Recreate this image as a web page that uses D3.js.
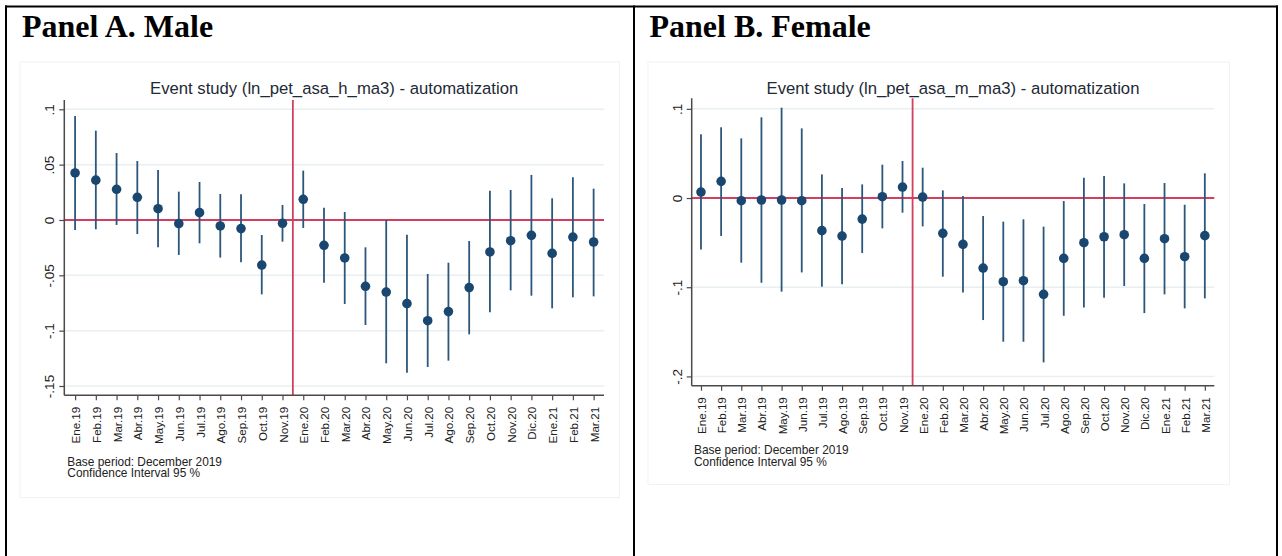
<!DOCTYPE html>
<html>
<head>
<meta charset="utf-8">
<script src="https://cdn.jsdelivr.net/npm/d3@7"></script>
<style>
  html, body { margin: 0; padding: 0; background: #ffffff; }
  svg { display: block; }
</style>
</head>
<body>
<svg id="chart" width="1282" height="556"></svg>
<script>
// ---------------- DATA ----------------
const months = ["Ene.19","Feb.19","Mar.19","Abr.19","May.19","Jun.19","Jul.19","Ago.19","Sep.19","Oct.19","Nov.19",
                "Ene.20","Feb.20","Mar.20","Abr.20","May.20","Jun.20","Jul.20","Ago.20","Sep.20","Oct.20","Nov.20","Dic.20",
                "Ene.21","Feb.21","Mar.21"];

// Panel A. Male
const maleCoef  = [0.0425, 0.036, 0.0277, 0.0205, 0.0102, -0.0033, 0.0066, -0.0054, -0.0078, -0.0407, -0.003,
                   0.0187, -0.0229, -0.0343, -0.0599, -0.0651, -0.0756, -0.091, -0.0828, -0.0611, -0.0289, -0.0187, -0.0139,
                   -0.0301, -0.0154, -0.0199];
const maleHi    = [0.094, 0.0807, 0.0605, 0.0533, 0.0452, 0.0256, 0.0343, 0.0235, 0.0232, -0.0136, 0.0136,
                   0.0446, 0.0111, 0.0072, -0.0247, 0.0, -0.0133, -0.0488, -0.0386, -0.019, 0.0265, 0.0271, 0.0407,
                   0.0196, 0.0386, 0.0283];
const maleLo    = [-0.009, -0.0084, -0.0045, -0.0127, -0.0247, -0.0316, -0.0211, -0.034, -0.0383, -0.0672, -0.0196,
                   -0.0072, -0.0566, -0.0759, -0.0949, -0.1295, -0.138, -0.1328, -0.1271, -0.1033, -0.0834, -0.0636, -0.0684,
                   -0.0798, -0.0699, -0.069];
const maleTicks      = [0.1, 0.05, 0, -0.05, -0.1, -0.15];
const maleTickLabels = [".1", ".05", "0", "-.05", "-.1", "-.15"];

// Panel B. Female
const femaleCoef = [0.0067, 0.0187, -0.003, -0.0022, -0.0022, -0.003, -0.0366, -0.0426, -0.0236, 0.0015, 0.0123,
                    0.0011, -0.0396, -0.052, -0.0785, -0.0938, -0.0927, -0.108, -0.0677, -0.0501, -0.0434, -0.0411, -0.0677,
                    -0.0456, -0.0658, -0.0422];
const femaleHi   = [0.0714, 0.0793, 0.0669, 0.0905, 0.1013, 0.0781, 0.0265, 0.0112, 0.0153, 0.0374, 0.0415,
                    0.034, 0.0086, 0.0022, -0.0202, -0.0265, -0.0239, -0.0321, -0.0034, 0.0228, 0.0247, 0.0164, -0.0067,
                    0.0168, -0.0075, 0.0277];
const femaleLo   = [-0.0576, -0.0426, -0.0725, -0.095, -0.105, -0.0834, -0.0994, -0.0968, -0.0617, -0.034, -0.0164,
                    -0.0318, -0.0882, -0.1058, -0.1368, -0.1611, -0.1611, -0.1843, -0.132, -0.1226, -0.1118, -0.0987, -0.129,
                    -0.108, -0.1237, -0.1125];
const femaleTicks      = [0.1, 0, -0.1, -0.2];
const femaleTickLabels = [".1", "0", "-.1", "-.2"];

const panelTitles = ["Panel A. Male", "Panel B. Female"];
const chartTitles = ["Event study (ln_pet_asa_h_ma3) - automatization",
                     "Event study (ln_pet_asa_m_ma3) - automatization"];
const noteLines = ["Base period: December 2019", "Confidence Interval 95 %"];
const baseIndex = 10.5; // between Nov.19 and Ene.20 (Dec 2019 omitted)

// ---------------- DRAW ----------------
const svg = d3.select("#chart");
const NAVY = "#1a476f";
const RED = "#d2405f";
const GRID = "#e8eff1";
const AXIS = "#4a4a4a";
const TXT = "#222222";

// Outer frame
svg.append("line").attr("x1", 5).attr("x2", 1278).attr("y1", 6.5).attr("y2", 6.5).attr("stroke", "#000").attr("stroke-width", 2);
[6, 634, 1277].forEach(x => {
  svg.append("line").attr("x1", x).attr("x2", x).attr("y1", 5.5).attr("y2", 556).attr("stroke", "#000").attr("stroke-width", 2);
});

const panels = [
  {
    title: panelTitles[0], titleX: 22, chartTitle: chartTitles[0],
    box: [20, 62, 619.5, 497.5],
    x0: 64.3, x1: 604, y0: 100, y1: 395.3,
    xDomain: [-0.52, 25.5], yDomain: [-0.1584, 0.1084],
    coef: maleCoef, hi: maleHi, lo: maleLo, ticks: maleTicks, tickLabels: maleTickLabels,
    titleY: 93.8, noteX: 67.3, noteY: 465.7
  },
  {
    title: panelTitles[1], titleX: 649.5, chartTitle: chartTitles[1],
    box: [648, 62, 1229.5, 484.5],
    x0: 691.7, x1: 1214.3, y0: 98.3, y1: 385.7,
    xDomain: [-0.46, 25.47], yDomain: [-0.2104, 0.1118],
    coef: femaleCoef, hi: femaleHi, lo: femaleLo, ticks: femaleTicks, tickLabels: femaleTickLabels,
    titleY: 93.5, noteX: 694, noteY: 454
  }
];

panels.forEach(p => {
  // Panel heading
  svg.append("text")
    .attr("x", p.titleX).attr("y", 36.5)
    .attr("font-family", "'Liberation Serif', 'Times New Roman', serif")
    .attr("font-weight", "bold")
    .attr("font-size", 32)
    .attr("fill", "#000")
    .text(p.title);

  // Graph region box (faint)
  svg.append("rect")
    .attr("x", p.box[0]).attr("y", p.box[1])
    .attr("width", p.box[2] - p.box[0]).attr("height", p.box[3] - p.box[1])
    .attr("fill", "#ffffff").attr("stroke", "#f0f2f3").attr("stroke-width", 1);

  const x = d3.scaleLinear().domain(p.xDomain).range([p.x0, p.x1]);
  const y = d3.scaleLinear().domain(p.yDomain).range([p.y1, p.y0]);

  const g = svg.append("g");

  // Grid lines
  g.selectAll(".grid").data(p.ticks).enter().append("line")
    .attr("x1", p.x0).attr("x2", p.x1)
    .attr("y1", d => y(d)).attr("y2", d => y(d))
    .attr("stroke", GRID).attr("stroke-width", 1.5);

  // Reference lines
  g.append("line").attr("x1", p.x0).attr("x2", p.x1).attr("y1", y(0)).attr("y2", y(0))
    .attr("stroke", RED).attr("stroke-width", 1.8);
  g.append("line").attr("x1", x(baseIndex)).attr("x2", x(baseIndex)).attr("y1", p.y0).attr("y2", p.y1)
    .attr("stroke", RED).attr("stroke-width", 1.8);

  // Y axis
  const yAxis = d3.axisLeft(y).tickValues(p.ticks)
    .tickFormat((d, i) => p.tickLabels[i]).tickSize(5).tickSizeOuter(0);
  const yg = svg.append("g").attr("transform", `translate(${p.x0},0)`).call(yAxis);
  yg.select(".domain").attr("stroke", AXIS).attr("stroke-width", 1.5)
    .attr("d", `M0,${p.y0}V${p.y1}`);
  yg.selectAll(".tick line").attr("stroke", AXIS).attr("stroke-width", 1.2);
  yg.selectAll(".tick text")
    .attr("font-family", "'Liberation Sans', Arial, sans-serif")
    .attr("font-size", 13.5).attr("fill", TXT)
    .attr("text-anchor", "middle")
    .attr("dy", 0)
    .attr("transform", "translate(-14.5,0) rotate(-90)")
    .attr("x", 0).attr("y", 0)
    .attr("dominant-baseline", "central");

  // X axis
  const idx = d3.range(months.length);
  const xAxis = d3.axisBottom(x).tickValues(idx)
    .tickFormat(i => months[i]).tickSize(5).tickSizeOuter(0);
  const xg = svg.append("g").attr("transform", `translate(0,${p.y1})`).call(xAxis);
  xg.select(".domain").attr("stroke", AXIS).attr("stroke-width", 1.5)
    .attr("d", `M${p.x0},0H${p.x1}`);
  xg.selectAll(".tick line").attr("stroke", AXIS).attr("stroke-width", 1.2);
  xg.selectAll(".tick text")
    .attr("font-family", "'Liberation Sans', Arial, sans-serif")
    .attr("font-size", 11.6).attr("fill", TXT)
    .attr("text-anchor", "end")
    .attr("dominant-baseline", "central")
    .attr("x", 0).attr("y", 0).attr("dy", 0)
    .attr("transform", "translate(0,11.5) rotate(-90)");

  // CI spikes
  g.selectAll(".ci").data(idx).enter().append("line")
    .attr("x1", i => x(i)).attr("x2", i => x(i))
    .attr("y1", i => y(p.hi[i])).attr("y2", i => y(p.lo[i]))
    .attr("stroke", "#2c567c").attr("stroke-width", 1.8);

  // Points
  g.selectAll(".pt").data(idx).enter().append("circle")
    .attr("cx", i => x(i)).attr("cy", i => y(p.coef[i]))
    .attr("r", 4.8).attr("fill", NAVY);

  // Chart title
  svg.append("text")
    .attr("x", (p.x0 + p.x1) / 2).attr("y", p.titleY)
    .attr("text-anchor", "middle")
    .attr("font-family", "'Liberation Sans', Arial, sans-serif")
    .attr("font-size", 16.7).attr("fill", "#1e2a36")
    .text(p.chartTitle);

  // Notes
  noteLines.forEach((t, k) => {
    svg.append("text")
      .attr("x", p.noteX).attr("y", p.noteY + k * 11.6)
      .attr("font-family", "'Liberation Sans', Arial, sans-serif")
      .attr("font-size", 11.9).attr("fill", TXT)
      .text(t);
  });
});
</script>
</body>
</html>
